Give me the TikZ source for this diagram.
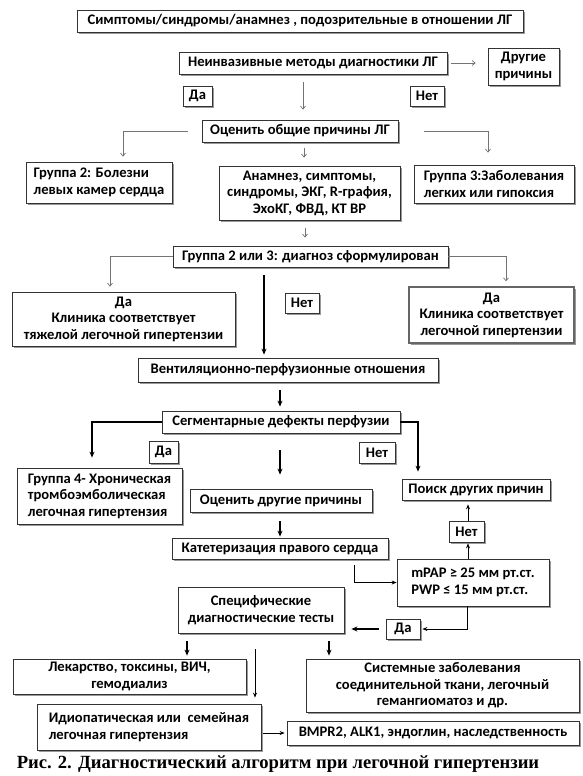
\documentclass[tikz,border=0pt]{standalone}
\usepackage{fontspec}
\setmainfont{Carlito}
\newfontfamily\capfont{Liberation Serif}
\usetikzlibrary{arrows.meta,shadows}

\begin{document}
\begin{tikzpicture}[x=1pt,y=-1pt,
  font=\bfseries\fontsize{14.6}{16.5}\selectfont,
  box/.style={draw=black!80, fill=white, line width=0.8pt, inner sep=1.5pt,
    drop shadow={shadow xshift=2pt,shadow yshift=-2pt,fill=black!40,opacity=1}},
  garrow/.style={draw=black!55, line width=0.7pt, -{Straight Barb[length=3pt,width=5pt]}},
  barrow/.style={line width=1.1pt, -{Stealth[length=6pt,width=5pt]}},
  tarrow/.style={line width=0.7pt, -{Stealth[length=5pt,width=4pt]}}]
\useasboundingbox (0,0) rectangle (583,776);

% upper part
\node[box, minimum width=446pt, minimum height=22pt] (symp) at (300,21) {Симптомы/синдромы/анамнез , подозрительные в отношении ЛГ};
\node[box, minimum width=268pt, minimum height=22pt] (noninv) at (313,63) {Неинвазивные методы диагностики ЛГ};
\node[box, minimum width=71pt, minimum height=37pt, align=center] (other) at (523.5,66.5) {Другие\\причины};
\node[box, minimum width=29pt, minimum height=20pt] (da1) at (197.5,96) {Да};
\node[box, minimum width=34pt, minimum height=20pt] (net1) at (427,96) {Нет};
\node[box, minimum width=196pt, minimum height=22pt] (assess) at (300,131) {Оценить общие причины ЛГ};
\node[box, minimum width=146pt, minimum height=41pt, align=left] (grp2) at (99,182.5) {Группа 2: Болезни\\левых камер сердца};
\node[box, minimum width=181pt, minimum height=54pt, align=center] (anam) at (309.5,193) {Анамнез, симптомы,\\синдромы, ЭКГ, R-графия,\\ЭхоКГ, ФВД, КТ ВР};
\node[box, minimum width=160pt, minimum height=38pt, align=left] (grp3) at (494,184) {Группа 3:Заболевания\\легких или гипоксия};
\node[box, minimum width=275pt, minimum height=21pt] (diag) at (310.5,256.5) {Группа 2 или 3: диагноз сформулирован};
\node[box, minimum width=223pt, minimum height=54pt, align=center] (daL) at (123.5,319) {Да\\Клиника соответствует\\тяжелой легочной гипертензии};
\node[box, minimum width=34pt, minimum height=20pt] (net2) at (302,303) {Нет};
\node[box, minimum width=165pt, minimum height=56pt, align=center, line width=1.3pt, draw=black!60] (daR) at (491.5,315) {Да\\Клиника соответствует\\легочной гипертензии};

\draw[garrow, shorten <=4pt, shorten >=12pt] (noninv.east) -- (noninv.east -| other.west);
\draw[garrow, shorten <=8pt, shorten >=10pt] ([xshift=-10pt]noninv.south) -- ([xshift=3pt]assess.north);
\draw[garrow, shorten <=14pt, shorten >=5pt] (assess.west) -| ([xshift=24pt]grp2.north);
\draw[garrow, shorten <=26pt, shorten >=12pt] (assess.east) -| ([xshift=-6pt]grp3.north);
\draw[garrow, shorten <=6pt, shorten >=8pt] ([xshift=4pt]assess.south) -- ([xshift=-5.5pt]anam.north);
\draw[garrow, shorten <=8pt, shorten >=8pt] ([xshift=-4.5pt]anam.south) -- ([xshift=-5.5pt]diag.north);
\draw[garrow, shorten >=5pt] (diag.west) -| ([xshift=-13.5pt]daL.north);
\draw[garrow, shorten >=5pt] (diag.east) -| ([xshift=14.5pt]daR.north);

% lower part
\node[box, minimum width=300pt, minimum height=24pt] (vq) at (288,370) {Вентиляционно-перфузионные отношения};
\node[box, minimum width=238pt, minimum height=22pt] (seg) at (281,422) {Сегментарные дефекты перфузии};
\node[box, minimum width=29pt, minimum height=22pt] (da3) at (163.5,452) {Да};
\node[box, minimum width=36pt, minimum height=21pt] (net3) at (377,452.5) {Нет};
\node[box, minimum width=165pt, minimum height=56pt, align=left] (grp4) at (99.5,496) {Группа 4- Хроническая\\тромбоэмболическая\\легочная гипертензия};
\node[box, minimum width=182pt, minimum height=23pt] (other2) at (281,500.5) {Оценить другие причины};
\node[box, minimum width=148pt, minimum height=21pt] (search) at (476,489.5) {Поиск других причин};
\node[box, minimum width=216pt, minimum height=21pt] (cath) at (280,548.5) {Катетеризация правого сердца};
\node[box, minimum width=35pt, minimum height=21pt] (net4) at (466.5,531.5) {Нет};
\node[box, minimum width=152pt, minimum height=47pt, align=left] (mpap) at (473,582.5) {mPAP ≥ 25 мм рт.ст.\\PWP ≤ 15 мм рт.ст.};
\node[box, minimum width=166pt, minimum height=46pt, align=center] (spec) at (261,610) {Специфические\\диагностические тесты};
\node[box, minimum width=34pt, minimum height=20pt] (da4) at (403,629) {Да};
\node[box, minimum width=233pt, minimum height=35pt, align=center] (drugs) at (129.5,676.5) {Лекарство, токсины, ВИЧ,\\гемодиализ};
\node[box, minimum width=273pt, minimum height=53pt, align=center] (sys) at (442.5,685.5) {Системные заболевания\\соединительной ткани, легочный\\гемангиоматоз и др.};
\node[box, minimum width=224pt, minimum height=46pt, align=left] (idio) at (149,727) {Идиопатическая или\ \ семейная\\легочная гипертензия};
\node[box, minimum width=292pt, minimum height=24pt] (bmpr) at (433,733) {BMPR2, ALK1, эндоглин, наследственность};

\draw[barrow, shorten <=8pt, shorten >=3pt] ([xshift=-46.5pt]diag.south) -- ([xshift=-24pt]vq.north);
\draw[barrow, shorten <=8pt, shorten >=4pt] ([xshift=-8pt]vq.south) -- ([xshift=-1pt]seg.north);
\draw[barrow, shorten >=10pt] (seg.west) -| ([xshift=-7.5pt]grp4.north);
\draw[barrow, shorten >=7pt] (seg.east) -| ([xshift=-58pt]search.north);
\draw[barrow, shorten <=17pt, shorten >=14pt] ([xshift=-1pt]seg.south) -- ([xshift=-1pt]other2.north);
\draw[barrow, shorten <=9pt, shorten >=1pt] ([xshift=-1pt]other2.south) -- (cath.north);
\draw[tarrow, shorten <=6pt] ([xshift=74pt]cath.south) |- (mpap.west);
\draw[tarrow, shorten >=1pt] ([xshift=-5pt]mpap.north) -- ([xshift=1.5pt]net4.south);
\draw[tarrow, shorten >=4pt] ([xshift=1.5pt]net4.north) -- ([xshift=-8pt]search.south);
\draw[tarrow, shorten >=2pt] ([xshift=-6pt]mpap.south) |- (da4.east);
\draw[barrow, line width=1.6pt, shorten <=7pt, shorten >=7pt] (da4.west) -- (da4.west -| spec.east);
\draw[barrow, shorten <=8pt, shorten >=3pt] ([xshift=-74pt]spec.south) -- ([xshift=-74pt]spec.south |- drugs.north);
\draw[barrow, shorten <=8pt, shorten >=3pt] ([xshift=68pt]spec.south) -- ([xshift=68pt]spec.south |- sys.north);
\draw[tarrow, shorten <=16pt, shorten >=6pt] ([xshift=-6pt]spec.south) -- ([xshift=-6pt]spec.south |- idio.north);
\draw[tarrow, shorten <=2pt, shorten >=2pt] (idio.east |- bmpr.west) -- (bmpr.west);

\node[font=\capfont\bfseries\fontsize{18.6}{21}\selectfont] (caption) at (278,764) {Рис. 2. Диагностический алгоритм при легочной гипертензии};
\end{tikzpicture}
\end{document}
